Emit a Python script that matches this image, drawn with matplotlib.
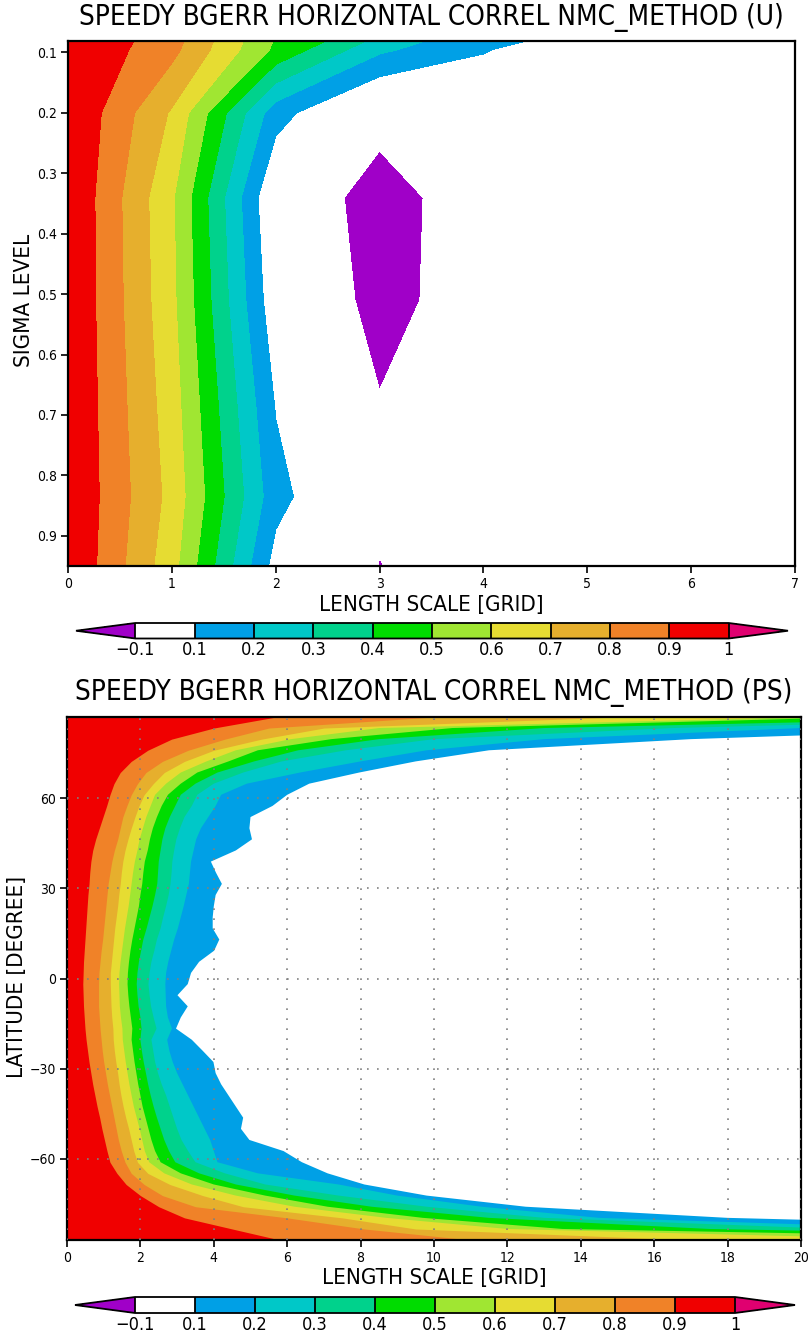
import numpy as np
import matplotlib
matplotlib.use('Agg')
from matplotlib import pyplot as plt
from matplotlib.colors import ListedColormap, BoundaryNorm
from matplotlib.font_manager import FontProperties

# shading levels (GrADS style) and their labels
clevs = [-0.1, 0.1, 0.2, 0.3, 0.4, 0.5, 0.6, 0.7, 0.8, 0.9, 1.0]
clev_labels = ['\u22120.1', '0.1', '0.2', '0.3', '0.4', '0.5', '0.6', '0.7', '0.8', '0.9', '1']
band_colors = ['#ffffff', '#00a0e6', '#00c8c8', '#00d28c', '#00dc00', '#a0e632',
               '#e6dc32', '#e6af2d', '#f08228', '#f00000']
under_color = '#a000c8'
over_color = '#e00070'

# ---- upper panel: U correlation on (sigma, length scale) grid
length_u = [0, 1, 2, 3, 4, 5, 6, 7]
sigma_u = [0.025, 0.095, 0.2, 0.34, 0.51, 0.685, 0.835, 0.95]
corr_u = [
    [1.0, 0.88, 0.53, 0.45, 0.25, 0.18, 0.05, 0.0],
    [1.0, 0.83, 0.48, 0.22, 0.11, 0.0, 0.0, 0.0],
    [1.0, 0.688, 0.14, -0.06, -0.03, -0.02, -0.01, 0.0],
    [1.0, 0.614, -0.005, -0.149, -0.032, -0.02, -0.01, 0.0],
    [1.0, 0.624, 0.029, -0.14, -0.037, -0.02, -0.01, 0.0],
    [1.0, 0.648, 0.094, -0.093, -0.03, -0.02, -0.01, 0.0],
    [1.0, 0.668, 0.136, -0.076, -0.03, -0.02, -0.01, 0.0],
    [1.0, 0.637, 0.06, -0.103, -0.03, -0.02, -0.01, 0.0],
]

# ---- lower panel: PS, length scale at which correlation drops to a level
lat_ps = [-87.16, -83.48, -79.78, -76.07, -72.36, -68.65, -64.94, -61.23,
          -57.52, -53.81, -50.10, -46.39, -42.68, -38.97, -35.26, -31.54,
          -27.83, -24.12, -20.41, -16.70, -12.99, -9.28, -5.57, -1.86,
          1.86, 5.57, 9.28, 12.99, 16.70, 20.41, 24.12, 27.83,
          31.54, 35.26, 38.97, 42.68, 46.39, 50.10, 53.81, 57.52,
          61.23, 64.94, 68.65, 72.36, 76.07, 79.78, 83.48, 87.16]
reach_90 = [5.8, 4.5, 3.2, 2.5, 2.0, 1.61, 1.36, 1.17, 1.09, 1.02, 0.95, 0.89,
            0.82, 0.76, 0.70, 0.65, 0.60, 0.56, 0.52, 0.49, 0.47, 0.45, 0.44, 0.43,
            0.44, 0.45, 0.47, 0.49, 0.51, 0.53, 0.55, 0.57, 0.60, 0.62, 0.65, 0.70,
            0.78, 0.88, 0.98, 1.08, 1.17, 1.28, 1.45, 1.75, 2.2, 2.85, 4.0, 5.7]
reach_80 = [11, 8.1, 6.0, 3.5, 2.6, 2.1, 1.75, 1.58, 1.48, 1.40, 1.34, 1.28,
            1.22, 1.16, 1.10, 1.05, 1.00, 0.96, 0.93, 0.90, 0.88, 0.86, 0.86, 0.86,
            0.87, 0.90, 0.93, 0.97, 1.00, 1.03, 1.06, 1.09, 1.12, 1.17, 1.22, 1.29,
            1.38, 1.45, 1.52, 1.63, 1.75, 1.92, 2.15, 2.6, 3.3, 4.3, 5.5, 10]
reach_70 = [17, 9.5, 7.5, 4.8, 3.7, 2.8, 2.2, 1.92, 1.82, 1.75, 1.68, 1.60,
            1.53, 1.47, 1.42, 1.38, 1.33, 1.29, 1.26, 1.25, 1.22, 1.20, 1.19, 1.18,
            1.18, 1.21, 1.24, 1.27, 1.30, 1.34, 1.38, 1.41, 1.45, 1.48, 1.52, 1.58,
            1.66, 1.75, 1.85, 1.96, 2.1, 2.35, 2.65, 3.2, 4.0, 5.3, 7.0, 15]
reach_60 = [24, 12.0, 8.7, 6.2, 4.6, 3.4, 2.65, 2.24, 2.12, 2.05, 1.98, 1.90,
            1.82, 1.76, 1.70, 1.65, 1.60, 1.56, 1.52, 1.51, 1.47, 1.44, 1.43, 1.42,
            1.43, 1.46, 1.50, 1.54, 1.58, 1.63, 1.68, 1.72, 1.76, 1.80, 1.85, 1.92,
            1.98, 2.07, 2.16, 2.28, 2.4, 2.7, 3.1, 3.8, 4.6, 6.1, 8.5, 20.3]
reach_50 = [30, 13.5, 9.7, 7.1, 5.4, 4.0, 3.1, 2.55, 2.4, 2.3, 2.22, 2.14,
            2.06, 2.00, 1.94, 1.89, 1.84, 1.80, 1.76, 1.78, 1.74, 1.70, 1.67, 1.65,
            1.66, 1.69, 1.73, 1.78, 1.84, 1.90, 1.96, 2.0, 2.05, 2.08, 2.12, 2.2,
            2.26, 2.34, 2.45, 2.58, 2.75, 3.1, 3.55, 4.4, 5.2, 7.2, 10.5, 21.7]
reach_40 = [34, 17.5, 11.5, 8.3, 6.2, 4.6, 3.6, 2.95, 2.78, 2.65, 2.55, 2.45,
            2.36, 2.28, 2.21, 2.15, 2.09, 2.04, 2.00, 2.03, 2.0, 1.95, 1.92, 1.90,
            1.92, 1.96, 2.02, 2.08, 2.17, 2.25, 2.33, 2.4, 2.46, 2.48, 2.5, 2.55,
            2.6, 2.68, 2.8, 2.95, 3.1, 3.5, 4.1, 5.1, 6.3, 8.5, 13, 26.5]
reach_30 = [38, 21, 13, 9.8, 7.4, 5.4, 4.3, 3.5, 3.3, 3.12, 3.0, 2.9,
            2.8, 2.7, 2.58, 2.48, 2.40, 2.35, 2.30, 2.44, 2.36, 2.29, 2.25, 2.22,
            2.25, 2.30, 2.38, 2.45, 2.55, 2.62, 2.70, 2.77, 2.82, 2.85, 2.87, 2.92,
            2.98, 3.08, 3.2, 3.4, 3.55, 4.0, 4.8, 5.85, 7.6, 10, 16.5, 28.2]
reach_20 = [42, 24, 14.5, 11.3, 9.0, 7.4, 5.2, 4.1, 4.0, 3.9, 3.75, 3.6,
            3.45, 3.3, 3.15, 3.0, 2.88, 2.79, 2.73, 2.86, 2.75, 2.70, 2.69, 2.68,
            2.70, 2.76, 2.84, 2.92, 3.02, 3.10, 3.18, 3.25, 3.32, 3.35, 3.38, 3.45,
            3.52, 3.65, 3.85, 4.05, 4.2, 4.9, 6.35, 8.0, 9.8, 13, 20, 35]
reach_10 = [50, 30, 18.0, 12.5, 9.8, 8.1, 7.1, 6.4, 5.9, 4.97, 4.74, 4.8,
            4.6, 4.4, 4.2, 4.05, 3.99, 3.7, 3.4, 2.97, 3.1, 3.29, 3.01, 3.29,
            3.38, 3.6, 4.01, 4.15, 3.97, 3.97, 4.0, 4.05, 4.22, 4.06, 3.92, 4.6,
            5.04, 4.97, 5.0, 5.6, 6.0, 6.6, 7.96, 9.5, 11.5, 17.0, 26, 45]

title_u = 'SPEEDY BGERR HORIZONTAL CORREL NMC_METHOD (U)'
title_ps = 'SPEEDY BGERR HORIZONTAL CORREL NMC_METHOD (PS)'

# narrow face, closer to the GrADS stroke font
font = FontProperties(family=['DejaVu Sans'], stretch='condensed')


def fp(size):
    f = font.copy()
    f.set_size(size)
    return f


def add_colorbar(fig, rect, cmap, norm):
    cax = fig.add_axes(rect)
    sm = plt.cm.ScalarMappable(norm=norm, cmap=cmap)
    cb = fig.colorbar(sm, cax=cax, orientation='horizontal', extend='both',
                      extendfrac=0.1, drawedges=True, ticks=clevs)
    cb.outline.set_linewidth(1.3)
    cb.dividers.set_linewidth(1.3)
    cb.ax.set_xticklabels(clev_labels, fontproperties=fp(13))
    cb.ax.tick_params(length=0, pad=2)
    return cb


def style_axes(ax):
    for s in ax.spines.values():
        s.set_linewidth(1.6)
    ax.tick_params(direction='out', length=5, width=1.2, pad=3)
    for lab in ax.get_xticklabels() + ax.get_yticklabels():
        lab.set_fontproperties(fp(10))


def main():
    fig = plt.figure(figsize=(8.1, 13.33), dpi=100)
    W, H = 810.0, 1333.0

    cmap = ListedColormap(band_colors)
    cmap.set_under(under_color)
    cmap.set_over(over_color)
    norm = BoundaryNorm(clevs, cmap.N)

    # upper panel
    ax1 = fig.add_axes([68 / W, 1 - 566 / H, (795 - 68) / W, (566 - 41) / H])
    ax1.contourf(length_u, sigma_u, np.array(corr_u), levels=clevs, cmap=cmap,
                 norm=norm, extend='both')
    ax1.set_xlim(0, 7)
    ax1.set_ylim(0.95, 0.081)
    ax1.set_xticks(range(8))
    ax1.set_yticks([0.1, 0.2, 0.3, 0.4, 0.5, 0.6, 0.7, 0.8, 0.9])
    ax1.set_yticklabels(['0.1', '0.2', '0.3', '0.4', '0.5', '0.6', '0.7', '0.8', '0.9'])
    style_axes(ax1)
    cx1 = (68 + 795) / 2 / W
    fig.text(cx1, 1 - 18 / H, title_u, ha='center', va='center', fontproperties=fp(20))
    fig.text(cx1, 1 - 605 / H, 'LENGTH SCALE [GRID]', ha='center', va='center',
             fontproperties=fp(16))
    fig.text(24 / W, 1 - 300 / H, 'SIGMA LEVEL', ha='center', va='center',
             rotation=90, fontproperties=fp(16))
    add_colorbar(fig, [76 / W, 1 - 638.5 / H, 712 / W, 15.5 / H], cmap, norm)

    # lower panel
    ax2 = fig.add_axes([67 / W, 1 - 1240 / H, (801 - 67) / W, (1240 - 717) / H])
    reaches = [reach_90, reach_80, reach_70, reach_60, reach_50,
               reach_40, reach_30, reach_20, reach_10]
    shades = band_colors[::-1][:9]
    # draw widest band first so narrower ones overlap without seams
    for reach, col in reversed(list(zip(reaches, shades))):
        ax2.fill_betweenx(lat_ps, 0, reach, color=col, lw=0)
    ax2.set_xlim(0, 20)
    ax2.set_ylim(-87.16, 87.16)
    ax2.set_xticks(range(0, 21, 2))
    ax2.set_yticks([-60, -30, 0, 30, 60])
    ax2.set_yticklabels(['\u221260', '\u221230', '0', '30', '60'])
    ax2.set_axisbelow(False)
    ax2.grid(True, linestyle=(0, (1, 5)), color='0.5', linewidth=1.2)
    style_axes(ax2)
    cx2 = (67 + 801) / 2 / W
    fig.text(cx2, 1 - 693 / H, title_ps, ha='center', va='center', fontproperties=fp(20))
    fig.text(cx2, 1 - 1278 / H, 'LENGTH SCALE [GRID]', ha='center', va='center',
             fontproperties=fp(16))
    fig.text(17 / W, 1 - 977 / H, 'LATITUDE [DEGREE]', ha='center', va='center',
             rotation=90, fontproperties=fp(16))
    add_colorbar(fig, [75 / W, 1 - 1313 / H, 720 / W, 16 / H], cmap, norm)

    fig.savefig('out.png', dpi=100)


if __name__ == '__main__':
    main()
